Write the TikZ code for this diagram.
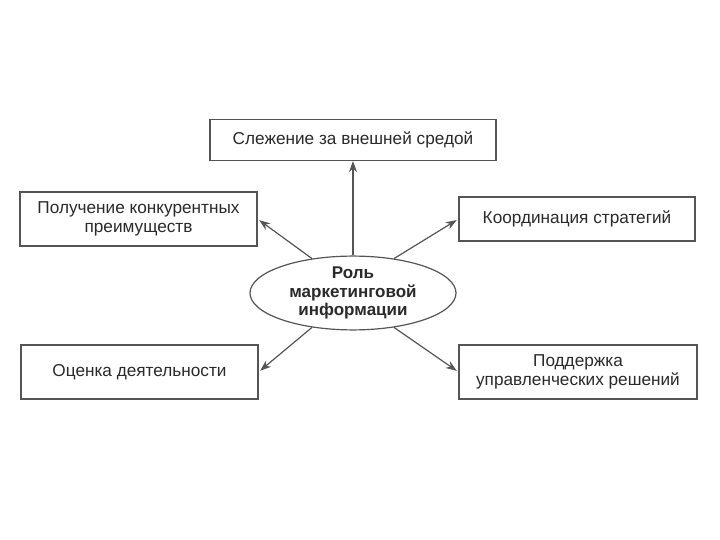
\documentclass[tikz,border=0pt]{standalone}
\usepackage{fontspec}
\setmainfont{Liberation Sans}
\usetikzlibrary{arrows.meta, shapes.geometric, positioning}
\definecolor{cline}{HTML}{555555}
\definecolor{ctext}{HTML}{2A2A2A}

\begin{document}
\begin{tikzpicture}[x=1pt, y=-1pt]
    \useasboundingbox (0,0) rectangle (720,540);
    \begin{scope}[every node/.style={rectangle, draw=cline, line width=1.2pt, fill=white, align=center, inner sep=2pt, font=\fontsize{17.2}{19}\selectfont\color{ctext}}]
        \node (track) [minimum width=286pt, minimum height=41pt] at (353,140) {Слежение за внешней средой};
        \node (edge) [minimum width=237pt, minimum height=54pt] at (138.5,219) {Получение конкурентных\\преимуществ};
        \node (coord) [minimum width=236pt, minimum height=44pt] at (577,219) {Координация стратегий};
        \node (eval) [minimum width=237pt, minimum height=54pt] at (139.5,372) {Оценка деятельности};
        \node (supp) [minimum width=238pt, minimum height=54pt] at (578,372) {Поддержка\\управленческих решений};
    \end{scope}
    \node (role) [ellipse, draw=cline, line width=1.2pt, fill=white, minimum width=206pt, minimum height=70pt, inner sep=0pt, align=center, font=\fontsize{17}{18.5}\selectfont\bfseries\color{ctext}] at (353,293) {Роль\\маркетинговой\\информации};
    \draw[-{Stealth[length=11pt, width=8pt]}, line width=1.2pt, draw=cline] (role) -- (track);
    \foreach \a/\b in {140/edge.east, 40/coord.west, 220/eval.east, 320/supp.west}
        \draw[-{Stealth[length=11pt, width=8pt]}, line width=1.2pt, draw=cline, shorten >=2pt] (role.\a) -- (\b);
\end{tikzpicture}
\end{document}
